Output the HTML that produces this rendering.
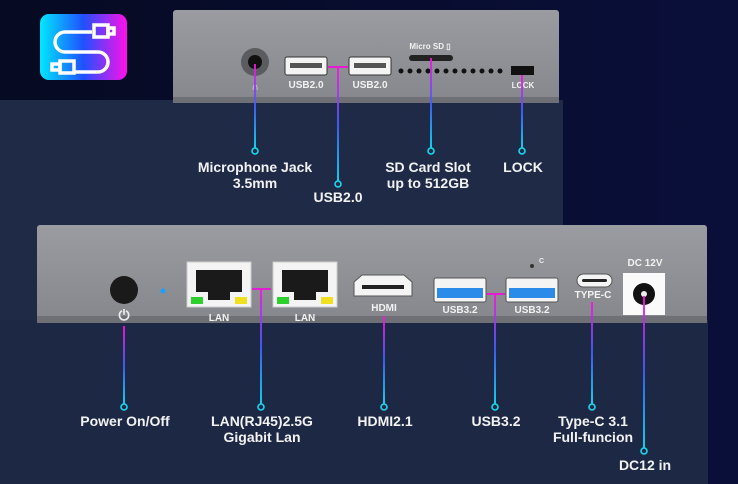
<!DOCTYPE html>
<html><head><meta charset="utf-8"><style>
body{margin:0;width:738px;height:484px;overflow:hidden;background:#070b24}
svg{display:block}
text{font-family:"Liberation Sans",sans-serif;font-weight:bold}
</style></head><body>
<svg width="738" height="484" viewBox="0 0 738 484">
<defs>
<linearGradient id="bg" x1="0" y1="0" x2="1" y2="0"><stop offset="0" stop-color="#060a22"/><stop offset="1" stop-color="#0a0f3a"/></linearGradient>
<linearGradient id="ic" x1="0" y1="0" x2="1" y2="0"><stop offset="0" stop-color="#00e8ff"/><stop offset="0.5" stop-color="#2050ff"/><stop offset="1" stop-color="#ff10e8"/></linearGradient>
<linearGradient id="ln" x1="0" y1="0" x2="0" y2="1"><stop offset="0" stop-color="#ff10e0"/><stop offset="0.5" stop-color="#4060ff"/><stop offset="1" stop-color="#10e0ff"/></linearGradient>
<linearGradient id="gr" x1="0" y1="0" x2="0" y2="1"><stop offset="0" stop-color="#9a9ca1"/><stop offset="1" stop-color="#85878c"/></linearGradient>
</defs>
<rect width="738" height="484" fill="url(#bg)"/>
<rect x="0" y="100" width="563" height="230" fill="#1e2a46"/>
<rect x="0" y="320" width="708" height="164" fill="#1d2944"/>
<rect x="40" y="14" width="87" height="66" rx="9" fill="url(#ic)"/>
<g fill="none" stroke="#fff" stroke-width="3.5">
<path d="M92 32 H65 a10 10 0 0 0 0 20 H98 a10 10 0 0 1 0 20 H75"/>
<rect x="94" y="25" width="14" height="12"/><rect x="108" y="28" width="6" height="6"/>
<rect x="60" y="61" width="14" height="12"/><rect x="52" y="64" width="8" height="6"/>
</g>
<rect x="173" y="10" width="386" height="93" rx="3" fill="url(#gr)"/>
<rect x="173" y="97" width="386" height="6" fill="#6e7075"/>
<circle cx="255" cy="62" r="14" fill="#5a5c60"/><circle cx="255" cy="62" r="7" fill="#111"/>
<text x="255" y="90" font-size="10" fill="#eee" text-anchor="middle">∩</text>
<g fill="#f4f4f4" stroke="#333" stroke-width="1"><rect x="285" y="57" width="42" height="18" rx="2"/><rect x="349" y="57" width="42" height="18" rx="2"/></g>
<g fill="#555"><rect x="290" y="63" width="32" height="5"/><rect x="354" y="63" width="32" height="5"/></g>
<g font-size="10" fill="#f2f2f2" text-anchor="middle"><text x="306" y="88">USB2.0</text><text x="370" y="88">USB2.0</text><text x="430" y="49" font-size="8">Micro SD ▯</text><text x="523" y="88" font-size="8">LOCK</text></g>
<rect x="409" y="55" width="44" height="6" rx="3" fill="#222"/>
<g fill="#111"><circle cx="401" cy="71" r="2.5"/><circle cx="410" cy="71" r="2.5"/><circle cx="419" cy="71" r="2.5"/><circle cx="428" cy="71" r="2.5"/><circle cx="437" cy="71" r="2.5"/><circle cx="446" cy="71" r="2.5"/><circle cx="455" cy="71" r="2.5"/><circle cx="464" cy="71" r="2.5"/><circle cx="473" cy="71" r="2.5"/><circle cx="482" cy="71" r="2.5"/><circle cx="491" cy="71" r="2.5"/><circle cx="500" cy="71" r="2.5"/></g>
<rect x="511" y="66" width="23" height="9" fill="#111"/>
<rect x="37" y="225" width="670" height="97" rx="3" fill="url(#gr)"/>
<rect x="37" y="316" width="670" height="7" fill="#6e7075"/>
<circle cx="124" cy="290" r="14" fill="#1a1a1a"/>
<text x="124" y="320" font-size="14" fill="#eee" text-anchor="middle">⏻</text>
<circle cx="163" cy="291" r="2.5" fill="#1aa0ff"/>
<g><rect x="187" y="262" width="64" height="45" fill="#f4f4f4" stroke="#ccc"/><rect x="196" y="270" width="46" height="22" fill="#1a1a1a"/><rect x="208" y="292" width="22" height="8" fill="#1a1a1a"/><rect x="191" y="297" width="12" height="7" fill="#2ed02e"/><rect x="235" y="297" width="12" height="7" fill="#f0e020"/>
<rect x="273" y="262" width="64" height="45" fill="#f4f4f4" stroke="#ccc"/><rect x="282" y="270" width="46" height="22" fill="#1a1a1a"/><rect x="294" y="292" width="22" height="8" fill="#1a1a1a"/><rect x="277" y="297" width="12" height="7" fill="#2ed02e"/><rect x="321" y="297" width="12" height="7" fill="#f0e020"/></g>
<path d="M354 282 l8 -7 h42 l8 7 v14 h-58z" fill="#f4f4f4" stroke="#555"/><rect x="362" y="285" width="42" height="4" fill="#222"/>
<g><rect x="434" y="278" width="52" height="24" rx="2" fill="#f4f4f4" stroke="#555"/><rect x="437" y="288" width="46" height="10" fill="#2a8ce8"/>
<rect x="506" y="278" width="52" height="24" rx="2" fill="#f4f4f4" stroke="#555"/><rect x="509" y="288" width="46" height="10" fill="#2a8ce8"/></g>
<circle cx="532" cy="266" r="2" fill="#333"/><text x="539" y="263" font-size="7" fill="#eee">C</text>
<rect x="577" y="274" width="35" height="13" rx="6.5" fill="#f4f4f4" stroke="#555"/><rect x="582" y="279" width="25" height="3" rx="1.5" fill="#222"/>
<rect x="623" y="273" width="42" height="42" fill="#fafafa"/><circle cx="644" cy="294" r="11" fill="#111"/><circle cx="644" cy="294" r="3" fill="#eee"/>
<g font-size="10" fill="#f2f2f2" text-anchor="middle"><text x="219" y="321">LAN</text><text x="305" y="321">LAN</text><text x="384" y="311">HDMI</text><text x="460" y="313">USB3.2</text><text x="532" y="313">USB3.2</text><text x="593" y="298">TYPE-C</text><text x="645" y="266">DC 12V</text></g>
<g stroke="#e020d0" stroke-width="2"><line x1="328" y1="67" x2="348" y2="67"/><line x1="252" y1="289" x2="271" y2="289"/><line x1="487" y1="294" x2="505" y2="294"/></g>
<g fill="url(#ln)">
<rect x="254.1" y="64" width="1.8" height="84"/>
<rect x="337.1" y="67" width="1.8" height="114"/>
<rect x="430.1" y="58" width="1.8" height="90"/>
<rect x="521.1" y="75" width="1.8" height="73"/>
<rect x="123.1" y="326" width="1.8" height="78"/>
<rect x="260.1" y="289" width="1.8" height="115"/>
<rect x="383.1" y="316" width="1.8" height="88"/>
<rect x="494.1" y="294" width="1.8" height="110"/>
<rect x="591.1" y="302" width="1.8" height="102"/>
<rect x="643.1" y="296" width="1.8" height="152"/>
</g>
<g fill="none" stroke="#18d8f0" stroke-width="1.6">
<circle cx="255" cy="151" r="3"/><circle cx="338" cy="184" r="3"/><circle cx="431" cy="151" r="3"/><circle cx="522" cy="151" r="3"/>
<circle cx="124" cy="407" r="3"/><circle cx="261" cy="407" r="3"/><circle cx="384" cy="407" r="3"/><circle cx="495" cy="407" r="3"/><circle cx="592" cy="407" r="3"/><circle cx="644" cy="451" r="3"/>
</g>
<g font-size="14" fill="#f2f2f2" text-anchor="middle">
<text x="255" y="172">Microphone Jack</text><text x="255" y="188">3.5mm</text>
<text x="338" y="202">USB2.0</text>
<text x="428" y="172">SD Card Slot</text><text x="428" y="188">up to 512GB</text>
<text x="523" y="172">LOCK</text>
<text x="125" y="426">Power On/Off</text>
<text x="262" y="426">LAN(RJ45)2.5G</text><text x="262" y="442">Gigabit Lan</text>
<text x="385" y="426">HDMI2.1</text>
<text x="496" y="426">USB3.2</text>
<text x="593" y="426">Type-C 3.1</text><text x="593" y="442">Full-funcion</text>
<text x="645" y="470">DC12 in</text>
</g>
</svg>
</body></html>
